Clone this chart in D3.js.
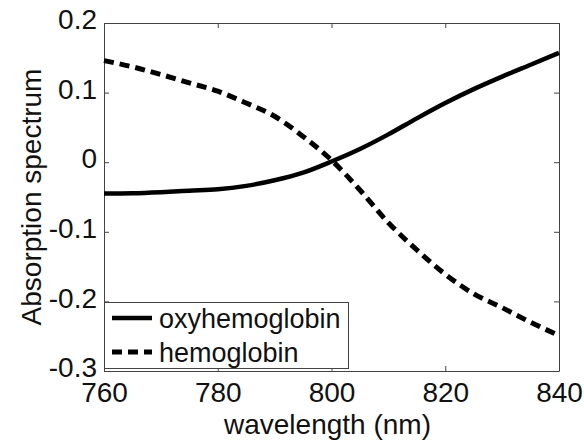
<!DOCTYPE html>
<html>
<head>
<meta charset="utf-8">
<script src="https://cdn.jsdelivr.net/npm/d3@7"></script>
<style>
  html, body { margin: 0; padding: 0; background: #fff; }
  svg { display: block; }
  text { font-family: "Liberation Sans", Arial, sans-serif; fill: #111; }
</style>
</head>
<body>
<svg id="chart" width="584" height="440"></svg>
<script>
// Wavelength samples (nm)
const wavelengths = [760, 765, 770, 775, 780, 785, 790, 795, 800, 805, 810, 815, 820, 825, 830, 835, 840];
// Normalised absorption spectra
const oxyhemoglobin = [-0.045, -0.0445, -0.043, -0.041, -0.039, -0.034, -0.026, -0.015, 0.001, 0.019, 0.040, 0.063, 0.085, 0.105, 0.123, 0.140, 0.157];
const hemoglobin = [0.146, 0.137, 0.126, 0.114, 0.102, 0.085, 0.066, 0.037, 0.003, -0.040, -0.087, -0.126, -0.161, -0.189, -0.209, -0.230, -0.249];
const xTicks = [760, 780, 800, 820, 840];
const yTicks = [-0.3, -0.2, -0.1, 0, 0.1, 0.2];
const seriesNames = ["oxyhemoglobin", "hemoglobin"];

const svg = d3.select("#chart");
const plotLeft = 104, plotRight = 559, plotTop = 23, plotBottom = 371;
const axisColor = "#444";
const fontStack = "'Liberation Sans', Arial, sans-serif";

const x = d3.scaleLinear().domain([760, 840]).range([plotLeft, plotRight]);
const y = d3.scaleLinear().domain([-0.3, 0.2]).range([plotBottom, plotTop]);

const fmtY = d => d === 0 ? "0" : d3.format(".1f")(d).replace("−", "-");

function styleAxis(g) {
  g.selectAll(".domain").attr("stroke", axisColor).attr("stroke-width", 1);
  g.selectAll(".tick line").attr("stroke", axisColor);
  g.selectAll(".tick text").attr("font-size", 28).attr("fill", "#111")
    .attr("font-family", fontStack);
}

// Bottom axis with labels
svg.append("g").attr("transform", `translate(0,${plotBottom})`)
  .call(d3.axisBottom(x).tickValues(xTicks).tickSizeInner(-5).tickSizeOuter(0).tickPadding(11).tickFormat(d3.format("d")))
  .call(styleAxis);
// Top mirror
svg.append("g").attr("transform", `translate(0,${plotTop})`)
  .call(d3.axisTop(x).tickValues(xTicks).tickSizeInner(-5).tickSizeOuter(0).tickFormat(""))
  .call(styleAxis);
// Left axis with labels
svg.append("g").attr("transform", `translate(${plotLeft},0)`)
  .call(d3.axisLeft(y).tickValues(yTicks).tickSizeInner(-5).tickSizeOuter(0).tickPadding(7).tickFormat(fmtY))
  .call(styleAxis)
  .selectAll(".tick text").attr("dy", "0.2em");
// Right mirror
svg.append("g").attr("transform", `translate(${plotRight},0)`)
  .call(d3.axisRight(y).tickValues(yTicks).tickSizeInner(-5).tickSizeOuter(0).tickFormat(""))
  .call(styleAxis);

// Curves
const line = d3.line().curve(d3.curveMonotoneX)
  .x((d, i) => x(wavelengths[i])).y(d => y(d));

svg.append("path").datum(oxyhemoglobin)
  .attr("d", line).attr("fill", "none").attr("stroke", "#000").attr("stroke-width", 4.5);
svg.append("path").datum(hemoglobin)
  .attr("d", line).attr("fill", "none").attr("stroke", "#000").attr("stroke-width", 5)
  .attr("stroke-dasharray", "10,6");

// Axis titles
svg.append("text").attr("x", (plotLeft + plotRight) / 2 - 4).attr("y", 434)
  .attr("text-anchor", "middle").attr("font-size", 28).text("wavelength (nm)");
svg.append("text").attr("transform", `translate(41,${(plotTop + plotBottom) / 2}) rotate(-90)`)
  .attr("text-anchor", "middle").attr("font-size", 28).text("Absorption spectrum");

// Legend
const lg = svg.append("g");
lg.append("rect").attr("x", plotLeft + 0.5).attr("y", 302.5).attr("width", 244).attr("height", 66)
  .attr("fill", "#fff").attr("stroke", axisColor).attr("stroke-width", 1);
const legendRows = [
  { name: seriesNames[0], dash: null, yy: 318, width: 4.5 },
  { name: seriesNames[1], dash: "10,6", yy: 352, width: 5 }
];
legendRows.forEach(r => {
  const l = lg.append("line").attr("x1", 112).attr("x2", 152).attr("y1", r.yy).attr("y2", r.yy)
    .attr("stroke", "#000").attr("stroke-width", r.width);
  if (r.dash) l.attr("stroke-dasharray", r.dash);
  lg.append("text").attr("x", 159).attr("y", r.yy + 10).attr("font-size", 27).text(r.name);
});
</script>
</body>
</html>
